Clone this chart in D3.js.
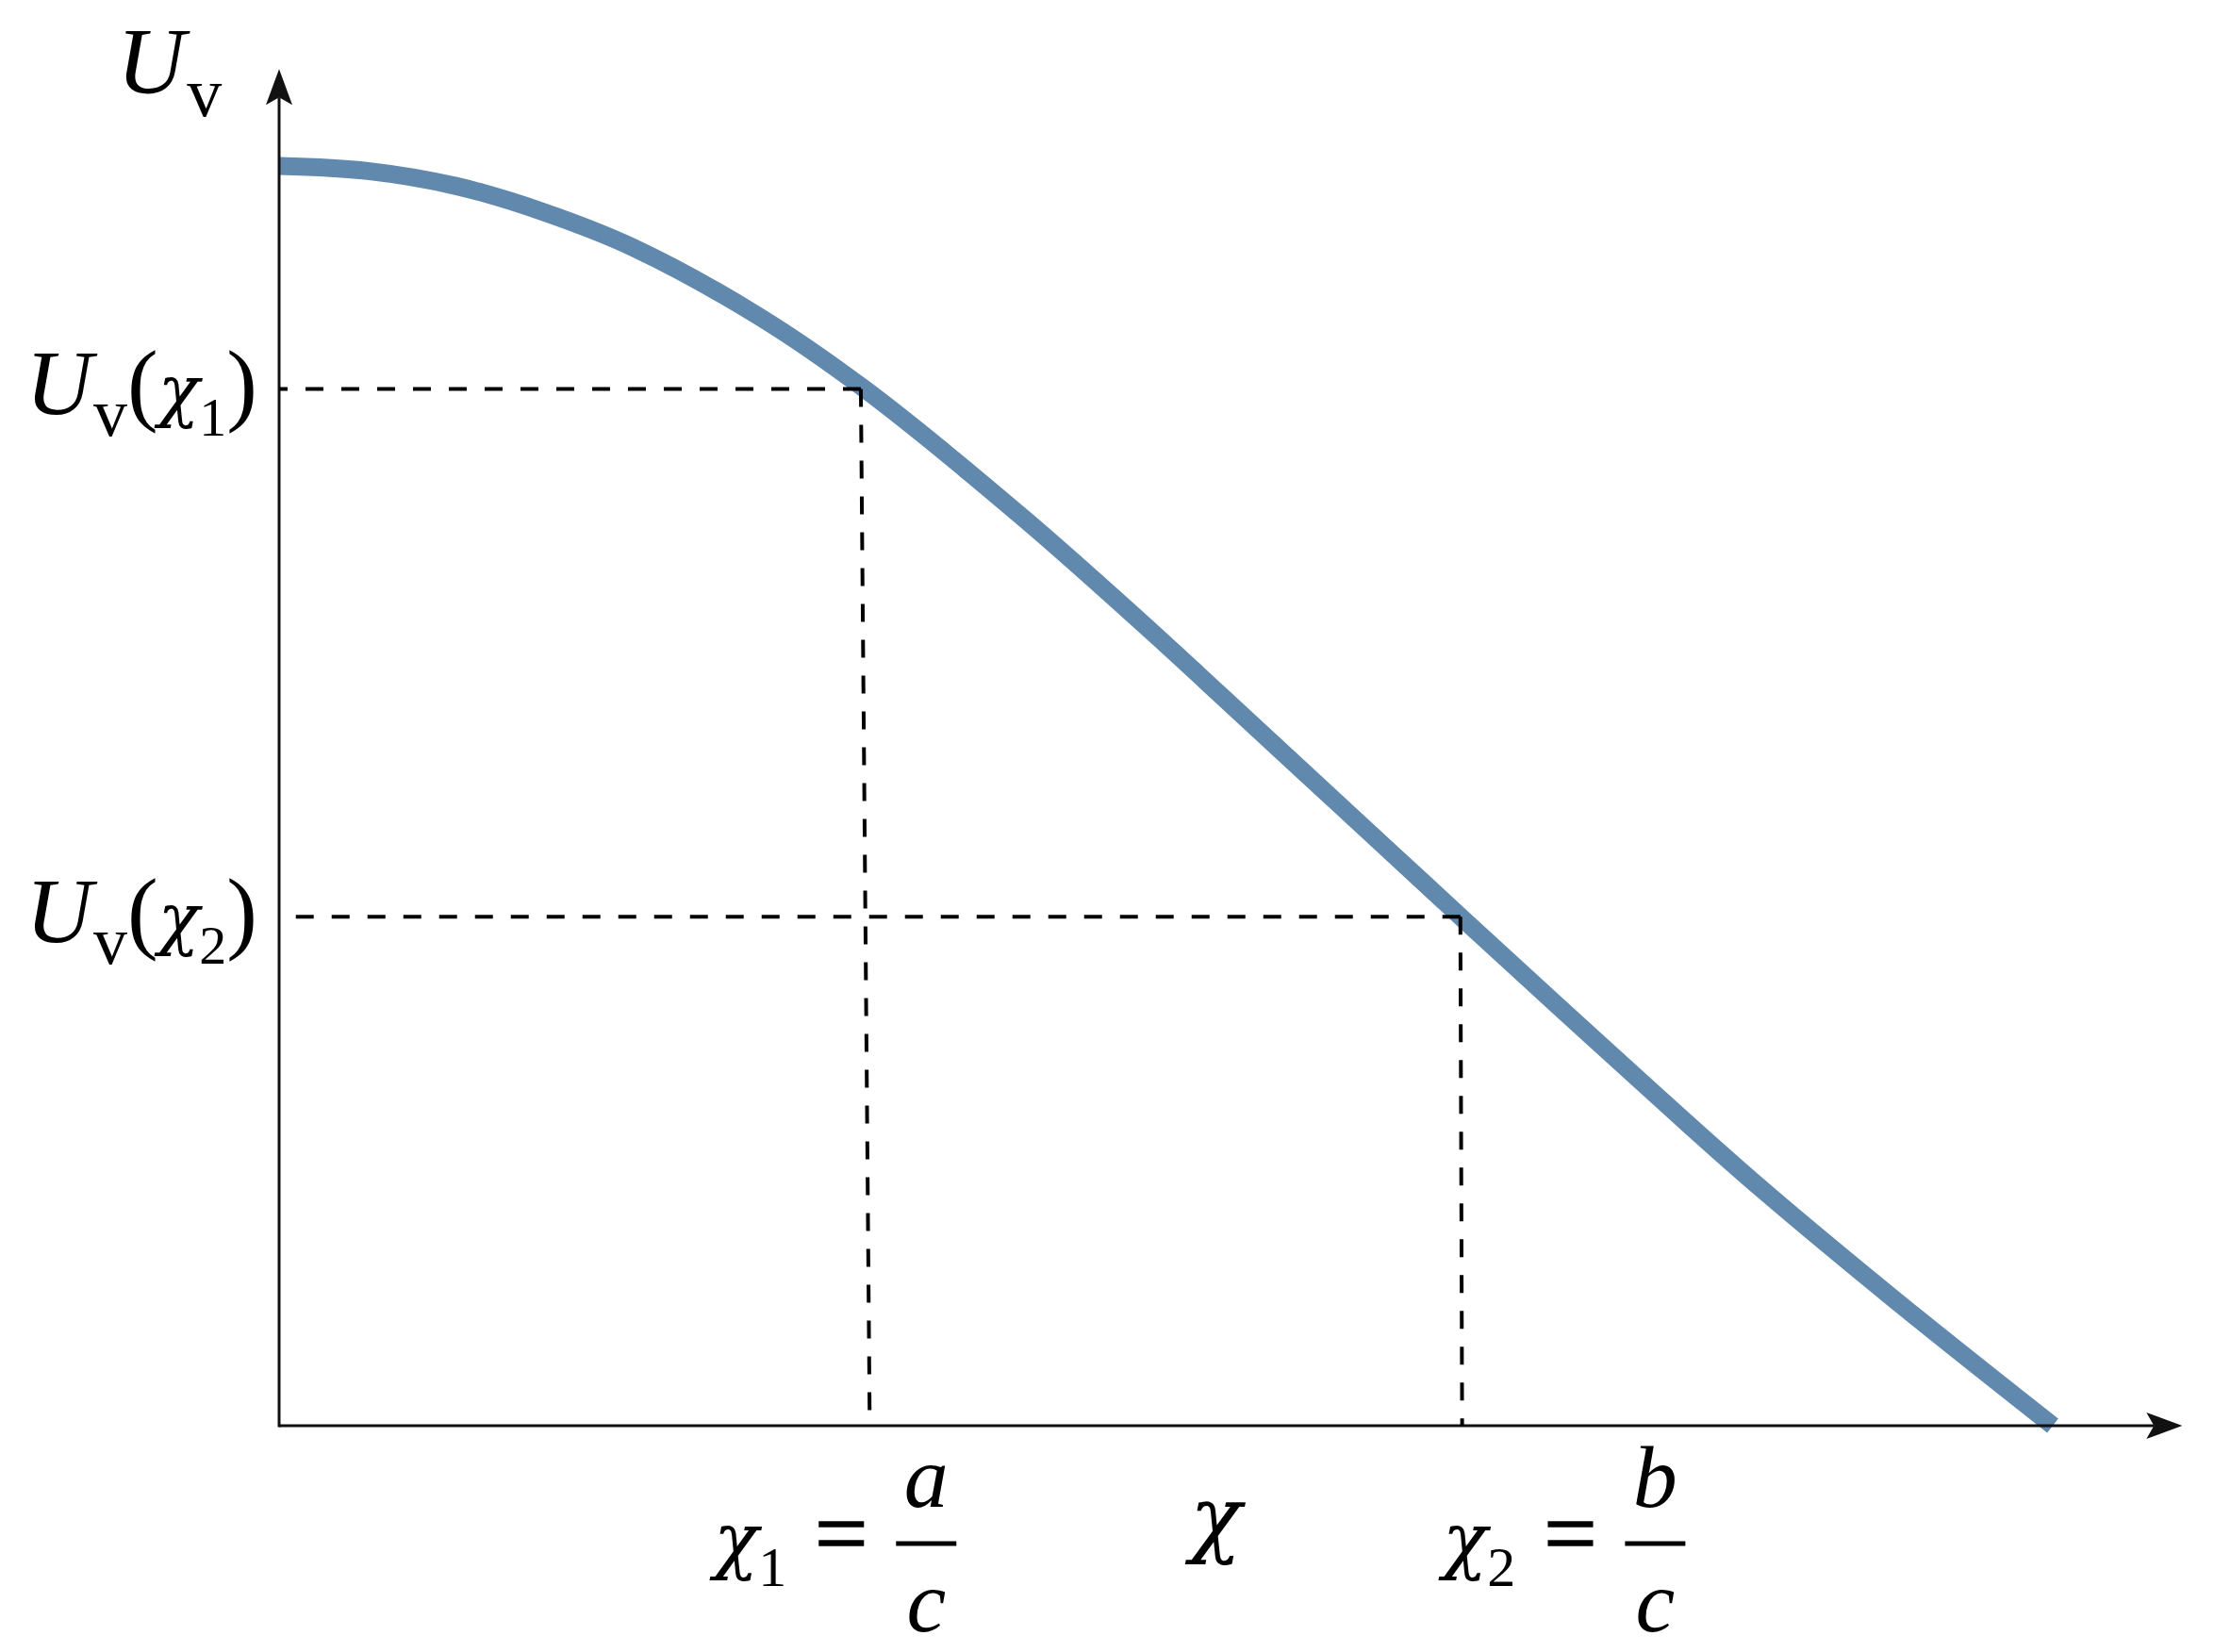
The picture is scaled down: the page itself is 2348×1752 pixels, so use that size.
<!DOCTYPE html>
<html>
<head>
<meta charset="utf-8">
<script src="https://cdn.jsdelivr.net/npm/d3@7"></script>
<style>
  body { margin: 0; background: #fff; }
  text { font-family: "Liberation Serif", "Times New Roman", serif; fill: #000; }
  .greek { font-family: "DejaVu Serif", serif; font-style: italic; }
</style>
</head>
<body>
<div id="chart"></div>
<script>
// curve: chi scaled so the curve ends at 1, U_v so it starts at 1
const chi = [0, 0.05, 0.10, 0.15, 0.20, 0.27, 0.33, 0.42, 0.50, 0.53, 0.60, 0.67, 0.75, 0.83, 0.91, 1.0];
const uv  = [1, 0.996, 0.984, 0.963, 0.935, 0.881, 0.823, 0.720, 0.620, 0.581, 0.490, 0.399, 0.296, 0.195, 0.101, 0];

// the two marked points chi_1, chi_2 (the drop lines lean a little in the original)
const markSubs = ["1", "2"];
const markChiTop = [0.328, 0.666];
const markChiFoot = [0.333, 0.667];
const markU = [0.823, 0.404];
const markNumer = ["a", "b"];
const markDenom = ["c", "c"];
const markLabelChi = [0.317, 0.728];   // where the "=" of each bottom label sits
const axisLabelChi = 0.528;            // the lone chi under the axis

const xAxisEnd = 1.073;
const yAxisEnd = 1.077;

const outerWidth = 2348;
const outerHeight = 1752;
const margin = {top: 176, left: 296, bottom: 240, right: 171};
const width = outerWidth - margin.left - margin.right;
const height = outerHeight - margin.top - margin.bottom;

const root = d3.select("#chart")
    .append("svg")
    .attr("width", outerWidth)
    .attr("height", outerHeight)
    .style("background", "#fff");

const svg = root.append("g")
    .attr("transform", `translate(${margin.left}, ${margin.top})`);

const xScale = d3.scaleLinear().domain([0, 1]).range([0, width]);
const yScale = d3.scaleLinear().domain([0, 1]).range([height, 0]);

const points = chi.map((c, i) => ({c: c, u: uv[i]}));

// curve
const line = d3.line()
    .x(d => xScale(d.c))
    .y(d => yScale(d.u))
    .curve(d3.curveCatmullRom.alpha(0.5));

svg.append("path")
    .datum(points)
    .attr("class", "uv-curve")
    .attr("fill", "none")
    .attr("stroke", "#6189ad")
    .attr("stroke-width", 19)
    .attr("d", line);

// axes with arrow heads
const axisColor = "#111";
const arrow = "M0,0 L-38,-14 L-30,0 L-38,14 Z";

svg.append("line")
    .attr("x1", 0).attr("y1", yScale(0))
    .attr("x2", xScale(xAxisEnd) - 30).attr("y2", yScale(0))
    .attr("stroke", axisColor).attr("stroke-width", 3);
svg.append("path")
    .attr("d", arrow)
    .attr("fill", axisColor)
    .attr("transform", `translate(${xScale(xAxisEnd)}, ${yScale(0)})`);

svg.append("line")
    .attr("x1", xScale(0)).attr("y1", yScale(0) + 1.5)
    .attr("x2", xScale(0)).attr("y2", yScale(yAxisEnd) + 30)
    .attr("stroke", axisColor).attr("stroke-width", 3);
svg.append("path")
    .attr("d", arrow)
    .attr("fill", axisColor)
    .attr("transform", `translate(${xScale(0)}, ${yScale(yAxisEnd)}) rotate(-90)`);

// dashed guides, drawn from the curve outwards
const marks = markSubs.map((s, i) => ({
    sub: s, top: markChiTop[i], foot: markChiFoot[i], u: markU[i],
    numer: markNumer[i], denom: markDenom[i], at: markLabelChi[i]
}));

svg.selectAll(".guide")
    .data(marks)
    .join("path")
    .attr("class", "guide")
    .attr("fill", "none")
    .attr("stroke", "#000")
    .attr("stroke-width", 4)
    .attr("stroke-dasharray", "19 19")
    .attr("d", d => `M${xScale(d.top)},${yScale(d.u)} L${xScale(0)},${yScale(d.u)}`
                  + ` M${xScale(d.top)},${yScale(d.u)} L${xScale(d.foot)},${yScale(0)}`);

// y labels  U_v(chi_i)
const yLabels = svg.selectAll(".y-label")
    .data(marks)
    .join("text")
    .attr("class", "y-label")
    .attr("text-anchor", "end")
    .attr("x", -23)
    .attr("y", d => yScale(d.u) + 27);

yLabels.append("tspan").text("U").attr("font-style", "italic").attr("font-size", 98);
yLabels.append("tspan").text("v").attr("font-size", 72).attr("dx", 1).attr("dy", 23);
yLabels.append("tspan").text("(").attr("font-size", 98).attr("dy", -23);
yLabels.append("tspan").text("χ").attr("class", "greek").attr("font-size", 72);
yLabels.append("tspan").text(d => d.sub).attr("font-size", 58).attr("dy", 23);
yLabels.append("tspan").text(")").attr("font-size", 98).attr("dy", -23);

// axis title U_v
const yTitle = svg.append("text")
    .attr("class", "y-axis-title")
    .attr("x", -172)
    .attr("y", -78);
yTitle.append("tspan").text("U").attr("font-style", "italic").attr("font-size", 100);
yTitle.append("tspan").text("v").attr("font-size", 74).attr("dx", 2).attr("dy", 25);

// bottom labels  chi_i = num / c
const xLabels = svg.selectAll(".x-label")
    .data(marks)
    .join("g")
    .attr("class", "x-label")
    .attr("transform", d => `translate(${xScale(d.at)}, ${height + 148})`);

const chiText = xLabels.append("text")
    .attr("text-anchor", "end")
    .attr("x", -58);
chiText.append("tspan").text("χ").attr("class", "greek").attr("font-size", 78);
chiText.append("tspan").text(d => d.sub).attr("font-size", 60).attr("dy", 22);

xLabels.append("text")
    .attr("text-anchor", "middle")
    .attr("font-size", 100)
    .attr("stroke", "#000")
    .attr("stroke-width", 1.5)
    .text("=");

xLabels.append("line")
    .attr("x1", 58).attr("x2", 122)
    .attr("y1", -23).attr("y2", -23)
    .attr("stroke", "#000").attr("stroke-width", 5);

xLabels.append("text")
    .attr("text-anchor", "middle")
    .attr("x", 90).attr("y", -62)
    .attr("font-style", "italic").attr("font-size", 94)
    .text(d => d.numer);

xLabels.append("text")
    .attr("text-anchor", "middle")
    .attr("x", 90).attr("y", 70)
    .attr("font-style", "italic").attr("font-size", 94)
    .text(d => d.denom);

svg.append("text")
    .attr("class", "x-axis-title greek")
    .attr("text-anchor", "middle")
    .attr("x", xScale(axisLabelChi))
    .attr("y", height + 128)
    .attr("font-size", 90)
    .text("χ");
</script>
</body>
</html>
